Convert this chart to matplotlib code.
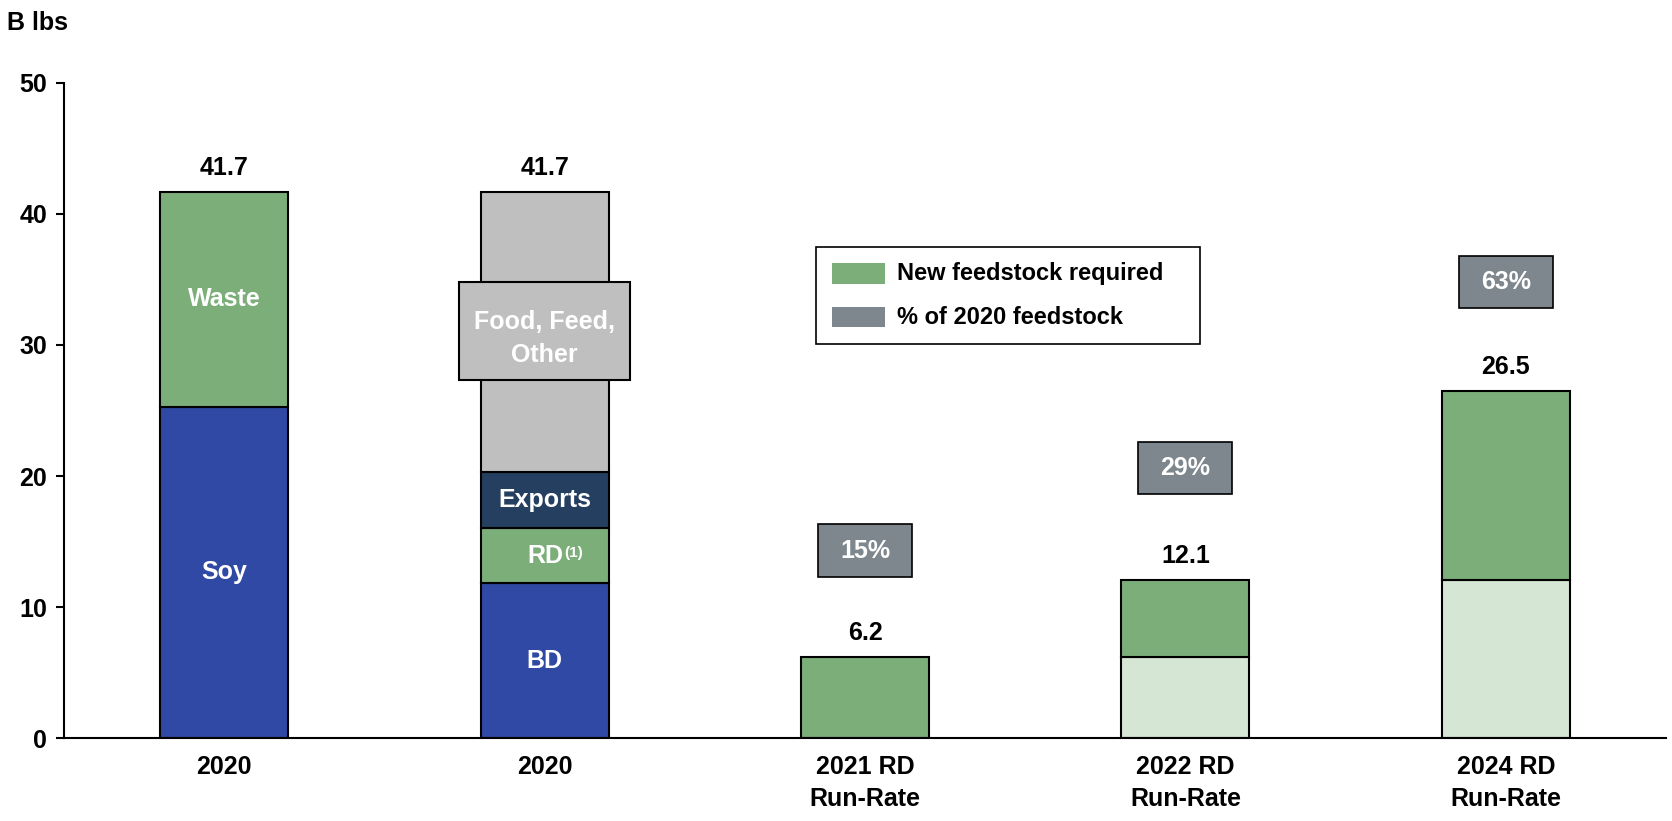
import matplotlib.pyplot as plt
from matplotlib.patches import Rectangle

plt.rcParams['font.family'] = ['Liberation Sans', 'DejaVu Sans']
plt.rcParams['font.weight'] = 'bold'

categories = ['2020', '2020', '2021 RD\nRun-Rate', '2022 RD\nRun-Rate', '2024 RD\nRun-Rate']
totals = [41.7, 41.7, 6.2, 12.1, 26.5]

# 2020 supply by source
soy = 25.3
waste = 16.4
# 2020 use
bd = 11.8
rd = 4.2
exports = 4.3
food_feed_other = 21.4
# RD run-rate: existing (light) + new feedstock (green)
existing = [0, 0, 0, 6.2, 12.1]
new_feed = [0, 0, 6.2, 5.9, 14.4]
pct_labels = ['15%', '29%', '63%']
pct_pos = [14.3, 20.6, 34.8]

GREEN = '#7CAE7A'
LIGHT = '#D6E6D4'
BLUE = '#3049A4'
NAVY = '#243F60'
GREY = '#BFBFBF'
SLATE = '#7D878D'
FS = 18

fig = plt.figure(figsize=(16.72, 8.21), dpi=100)
ax = fig.add_axes([0.0383, 0.101, 0.9581, 0.798])

w = 0.4
kw = dict(width=w, edgecolor='black', linewidth=1.5, zorder=2)

ax.bar(0, soy, color=BLUE, **kw)
ax.bar(0, waste, bottom=soy, color=GREEN, **kw)
ax.text(0, soy / 2, 'Soy', ha='center', va='center', color='white', fontsize=FS)
ax.text(0, soy + waste / 2, 'Waste', ha='center', va='center', color='white', fontsize=FS)

b = 0
for val, col in [(bd, BLUE), (rd, GREEN), (exports, NAVY), (food_feed_other, GREY)]:
    ax.bar(1, val, bottom=b, color=col, **kw)
    b += val
ax.text(1, bd / 2, 'BD', ha='center', va='center', color='white', fontsize=FS)
ax.text(1.06, bd + rd / 2, 'RD', ha='right', va='center', color='white', fontsize=FS)
ax.text(1.062, bd + rd / 2 + 0.25, '(1)', ha='left', va='center', color='white', fontsize=11)
ax.text(1, bd + rd + exports / 2, 'Exports', ha='center', va='center', color='white', fontsize=FS)

# callout box over the food/feed segment
ax.add_patch(Rectangle((1 - 0.267, 27.3), 0.533, 7.5, facecolor=GREY,
                       edgecolor='black', linewidth=1.5, zorder=3))
ax.text(1, 30.5, 'Food, Feed,\nOther', ha='center', va='center', color='white',
        fontsize=FS, linespacing=1.45, zorder=4)

for i in range(2, 5):
    ax.bar(i, existing[i], color=LIGHT, **kw)
    ax.bar(i, new_feed[i], bottom=existing[i], color=GREEN, **kw)

for i, t in enumerate(totals):
    ax.text(i, t + 1.8, f'{t:.1f}', ha='center', va='center', fontsize=FS)

for i, (lab, y) in enumerate(zip(pct_labels, pct_pos)):
    x = i + 2
    ax.add_patch(Rectangle((x - 0.147, y - 2.0), 0.293, 4.0, facecolor=SLATE,
                           edgecolor='black', linewidth=1.2, zorder=3))
    ax.text(x, y, lab, ha='center', va='center', color='white', fontsize=FS, zorder=4)

# legend box (axes fraction coords)
tr = ax.transAxes
ax.add_patch(Rectangle((0.4694, 0.6015), 0.2397, 0.1481, transform=tr,
                       facecolor='white', edgecolor='black', linewidth=1.2, zorder=5))
for yc, col, lab in [(0.7084, GREEN, 'New feedstock required'),
                     (0.6427, SLATE, '% of 2020 feedstock')]:
    ax.add_patch(Rectangle((0.4794, yc - 0.016), 0.0331, 0.032, transform=tr,
                           facecolor=col, edgecolor='none', zorder=6))
    ax.text(0.5200, yc, lab, transform=tr, ha='left', va='center',
            fontsize=17, zorder=6)

ax.set_xlim(-0.5, 4.5)
ax.set_ylim(0, 50)
ax.set_yticks([0, 10, 20, 30, 40, 50])
ax.set_xticks(range(5))
ax.set_xticklabels(categories, fontsize=FS, linespacing=1.45)
ax.tick_params(axis='x', length=0, pad=12)
ax.tick_params(axis='y', labelsize=FS, length=6, width=1.5, pad=6)
for s in ['top', 'right']:
    ax.spines[s].set_visible(False)
ax.spines['left'].set_linewidth(1.5)
ax.spines['bottom'].set_linewidth(1.5)

fig.text(0.004, 0.972, 'B lbs', ha='left', va='center', fontsize=FS)

plt.savefig('out.png', dpi=100)
